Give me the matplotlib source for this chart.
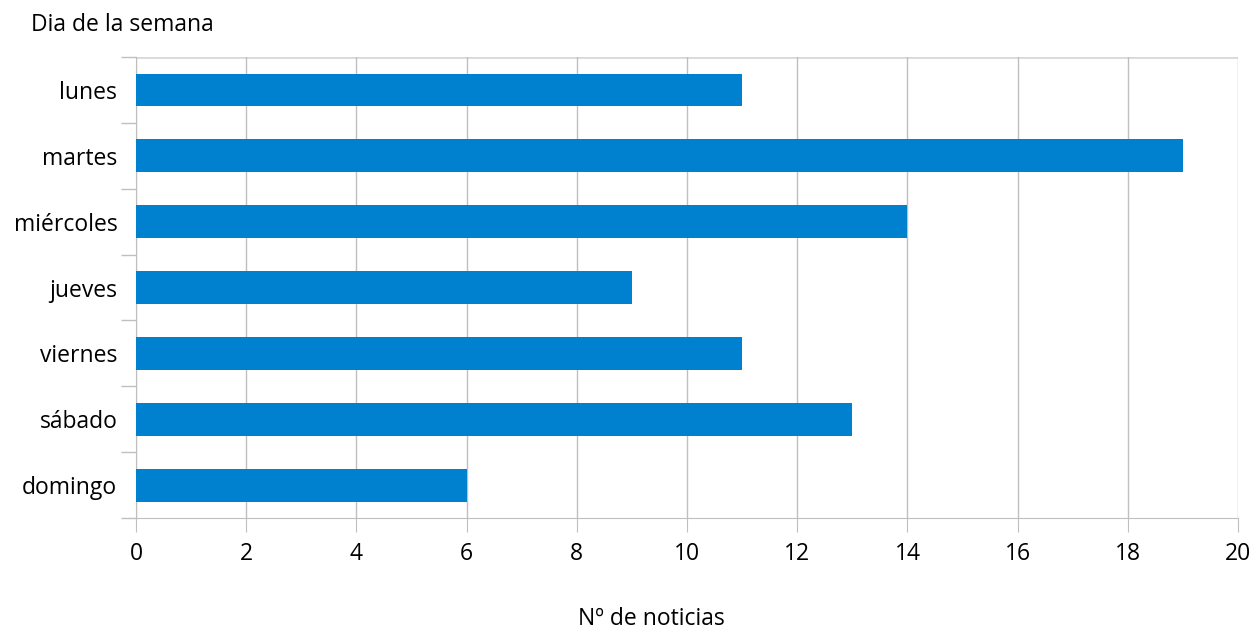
import numpy as np
import matplotlib.pyplot as plt

plt.rcParams['font.family'] = ['Open Sans', 'DejaVu Sans']

dias = ['lunes', 'martes', 'miércoles', 'jueves', 'viernes', 'sábado', 'domingo']
noticias = [11, 19, 14, 9, 11, 13, 6]
x_ticks = [0, 2, 4, 6, 8, 10, 12, 14, 16, 18, 20]

grid_col = '#BFBFBF'
bar_col = '#0081D0'
fs = 16.5

fig = plt.figure(figsize=(12.56, 6.34), dpi=100)
ax = fig.add_axes([0.1083, 0.183, 0.8774, 0.727])

pos = np.arange(len(dias))
ax.barh(pos, noticias, height=0.5, color=bar_col, zorder=3)
ax.set_ylim(len(dias) - 0.5, -0.5)
ax.set_xlim(0, 20)

ax.set_xticks(x_ticks)
ax.set_xticklabels([str(v) for v in x_ticks], fontsize=fs)
ax.set_yticks(pos)
ax.set_yticklabels(dias, fontsize=fs)
ax.tick_params(axis='y', length=0, pad=13.5)
ax.tick_params(axis='x', length=10, color=grid_col, pad=7)

# category boundary ticks on the left
ax.set_yticks(np.arange(len(dias) + 1) - 0.5, minor=True)
ax.tick_params(axis='y', which='minor', length=11, color=grid_col, width=1)

ax.xaxis.grid(True, color=grid_col, linewidth=1, zorder=0)
for s in ['top', 'right']:
    ax.spines[s].set_visible(False)
ax.spines['left'].set_color(grid_col)
ax.spines['bottom'].set_color(grid_col)
ax.axhline(-0.5, color='#D9D9D9', linewidth=2, zorder=1)

fig.text(0.025, 0.96, 'Dia de la semana', fontsize=fs, va='center', ha='left')
fig.text(0.519, 0.024, 'Nº de noticias', fontsize=fs, va='center', ha='center')

fig.savefig('out.png', dpi=100)
